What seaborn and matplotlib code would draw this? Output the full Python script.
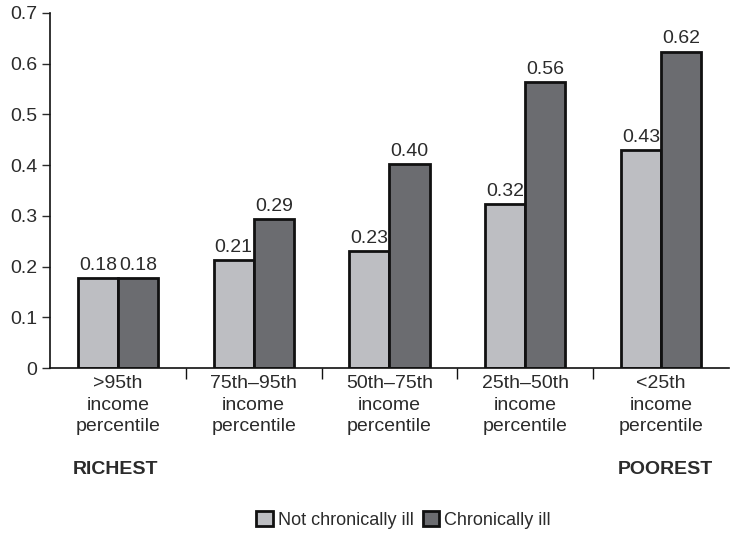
import pandas as pd
import numpy as np
import matplotlib
matplotlib.use('Agg')
import matplotlib.pyplot as plt
from matplotlib.patches import Patch
import seaborn as sns

# ========== 数据 ==========
groups = ['>95th\nincome\npercentile', '75th\u201395th\nincome\npercentile',
          '50th\u201375th\nincome\npercentile', '25th\u201350th\nincome\npercentile',
          '<25th\nincome\npercentile']
not_ill = [0.177, 0.213, 0.231, 0.323, 0.430]
chronic = [0.177, 0.293, 0.402, 0.564, 0.624]
series = ['Not chronically ill', 'Chronically ill']
colors = ['#bdbec2', '#6b6c70']

df = pd.DataFrame({
    'group': groups * 2,
    'value': not_ill + chronic,
    'status': [series[0]] * len(groups) + [series[1]] * len(groups),
})

sns.set_style('ticks')
plt.rcParams['font.family'] = ['Liberation Sans', 'DejaVu Sans']
TXT = '#2b2b2b'
FS = 14

fig = plt.figure(figsize=(7.30, 5.39), dpi=100)
ax = fig.add_axes([0.0685, 0.317, 0.93, 0.659])

sns.barplot(data=df, x='group', y='value', hue='status', order=groups,
            hue_order=series, palette=colors, width=0.59, dodge=True,
            edgecolor='#111111', linewidth=2, saturation=1, legend=False, ax=ax)

for cont in ax.containers:
    ax.bar_label(cont, labels=[f'{b.get_height():.2f}' for b in cont],
                 padding=3, fontsize=FS, color=TXT)

ax.set_xlim(-0.5, len(groups) - 0.5)
ax.set_ylim(0, 0.7)
ax.set_yticks(np.arange(0, 0.71, 0.1))
ax.set_yticklabels(['0'] + [f'{v:.1f}' for v in np.arange(0.1, 0.71, 0.1)])
ax.tick_params(axis='y', labelsize=FS, colors=TXT, length=6, width=1, pad=3)
ax.tick_params(axis='x', which='major', length=0, labelsize=FS, colors=TXT, pad=5)
ax.set_xticks(np.arange(0.5, len(groups) - 0.5, 1), minor=True)
ax.tick_params(axis='x', which='minor', length=8, width=1, color='#111111')
for lab in ax.get_xticklabels():
    lab.set_linespacing(1.35)
ax.set_xlabel('')
ax.set_ylabel('')
for s in ['top', 'right']:
    ax.spines[s].set_visible(False)
for s in ['left', 'bottom']:
    ax.spines[s].set_color('#111111')
    ax.spines[s].set_linewidth(1.2)

fig.text(115 / 730, 1 - 470 / 539, 'RICHEST', ha='center', va='center',
         fontsize=FS, fontweight='bold', color=TXT)
fig.text(665 / 730, 1 - 470 / 539, 'POOREST', ha='center', va='center',
         fontsize=FS, fontweight='bold', color=TXT)

handles = [Patch(facecolor=c, edgecolor='#111111', linewidth=2) for c in colors]
fig.legend(handles, series, loc='center', bbox_to_anchor=(0.553, 0.035), ncol=2,
           frameon=False, fontsize=13, handlelength=0.9, handleheight=0.9,
           handletextpad=0.3, columnspacing=0.5, labelcolor=TXT)

fig.savefig('out.png', dpi=100)
